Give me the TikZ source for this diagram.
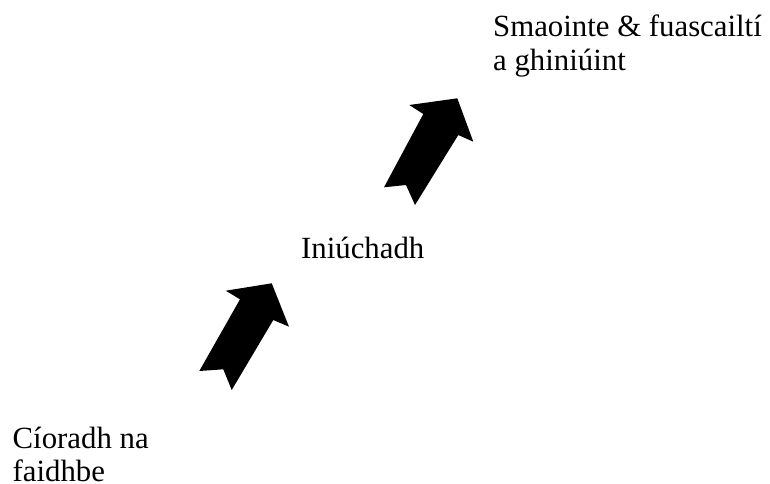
\documentclass[tikz,border=0pt]{standalone}
\usepackage{fontspec}
\setmainfont{Liberation Serif}
\begin{document}
\begin{tikzpicture}[x=1pt,y=-1pt,
  lbl/.style={anchor=base west,inner sep=0pt,align=left,font=\fontsize{30.8}{33.8}\selectfont},
  bigarrow/.style={fill=black,draw=none}]
\useasboundingbox (0,0) rectangle (770,483);
\node[lbl] (top) at (493,70.3) {Smaointe \& fuascailtí\\a ghiniúint};
\node[lbl] (mid) at (301,258.3) {Iniúchadh};
\node[lbl] (bot) at (12.5,481.8) {Cíoradh na\\faidhbe};
\fill[bigarrow] (271.7,283.3) -- (225.7,290.7) -- (240,299.3) -- (199.3,371) -- (223.3,369.3) -- (231.7,390) -- (273.3,320) -- (289,326.7) -- cycle;
\fill[bigarrow] (457.3,98.3) -- (409.3,105) -- (423.3,114) -- (384,187.3) -- (406,185) -- (415,205) -- (458.3,135) -- (473.3,141.7) -- cycle;
\end{tikzpicture}
\end{document}
